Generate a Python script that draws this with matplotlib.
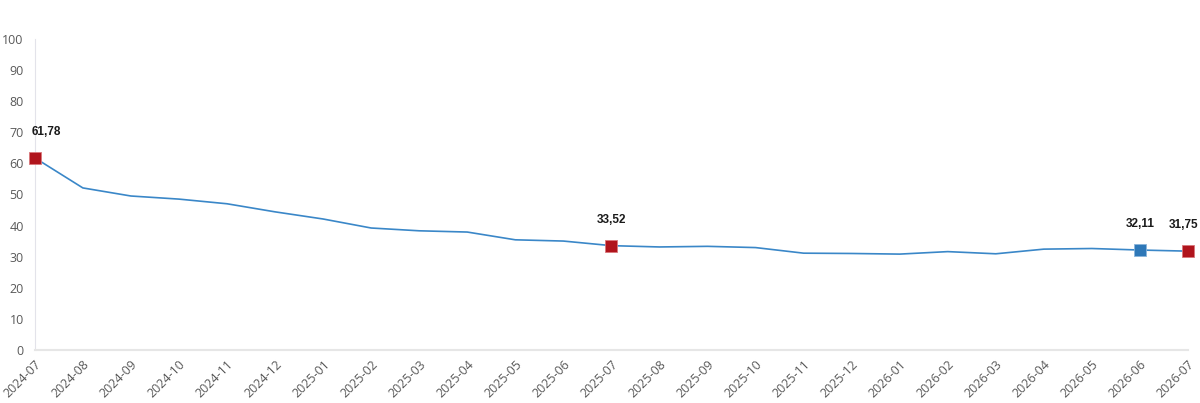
import matplotlib
matplotlib.use("Agg")
import matplotlib.pyplot as plt

# monthly values
months = ["2024-07", "2024-08", "2024-09", "2024-10", "2024-11", "2024-12",
          "2025-01", "2025-02", "2025-03", "2025-04", "2025-05", "2025-06",
          "2025-07", "2025-08", "2025-09", "2025-10", "2025-11", "2025-12",
          "2026-01", "2026-02", "2026-03", "2026-04", "2026-05", "2026-06",
          "2026-07"]
values = [61.78, 52.1, 49.5, 48.5, 47.0, 44.4,
          42.1, 39.2, 38.3, 37.9, 35.4, 35.0,
          33.52, 33.1, 33.3, 32.9, 31.1, 31.0,
          30.8, 31.6, 30.9, 32.4, 32.6, 32.11,
          31.75]

# highlighted points: index -> colour
red_points = [0, 12, 24]
blue_points = [23]

plt.rcParams['font.family'] = ['Open Sans', 'DejaVu Sans']

fig = plt.figure(figsize=(12, 4.03), dpi=100)
ax = fig.add_axes([0.029, 0.132, 0.961, 0.771])

x = list(range(len(months)))
ax.plot(x, values, color='#3A87C8', linewidth=1.2, zorder=2)

for i in red_points:
    ax.plot(i, values[i], marker='s', markersize=9, color='#B0141C',
            markeredgecolor='#D9787C', markeredgewidth=0.6, zorder=3,
            clip_on=False)
for i in blue_points:
    ax.plot(i, values[i], marker='s', markersize=9, color='#2E78B8',
            markeredgecolor='#8AB4DA', markeredgewidth=0.6, zorder=3,
            clip_on=False)

for i in red_points + blue_points:
    label = f"{values[i]:.2f}".replace('.', ',')
    dx = 0
    if i == 0:
        dx = 12
    elif i == len(months) - 1:
        dx = -4
    ax.annotate(label, (i, values[i]), xytext=(dx, 20), textcoords='offset pixels',
                ha='center', va='bottom',
                fontsize=8.5, fontweight='bold', color='#1a1a1a',
                family=['Liberation Sans', 'DejaVu Sans'])

ax.set_xlim(0, len(months) - 1)
ax.set_ylim(0, 100)
ax.set_yticks(range(0, 101, 10))
ax.set_xticks(x)
ax.set_xticklabels(months, rotation=45, ha='right', rotation_mode='anchor')
ax.tick_params(axis='both', length=0, labelsize=9, colors='#595959')
ax.tick_params(axis='y', pad=8)
ax.tick_params(axis='x', pad=6)

for side in ['top', 'right']:
    ax.spines[side].set_visible(False)
ax.spines['left'].set_color('#E3E3EA')
ax.spines['bottom'].set_color('#E6E6E6')
ax.spines['bottom'].set_linewidth(1.5)

fig.savefig('out.png', dpi=100)
